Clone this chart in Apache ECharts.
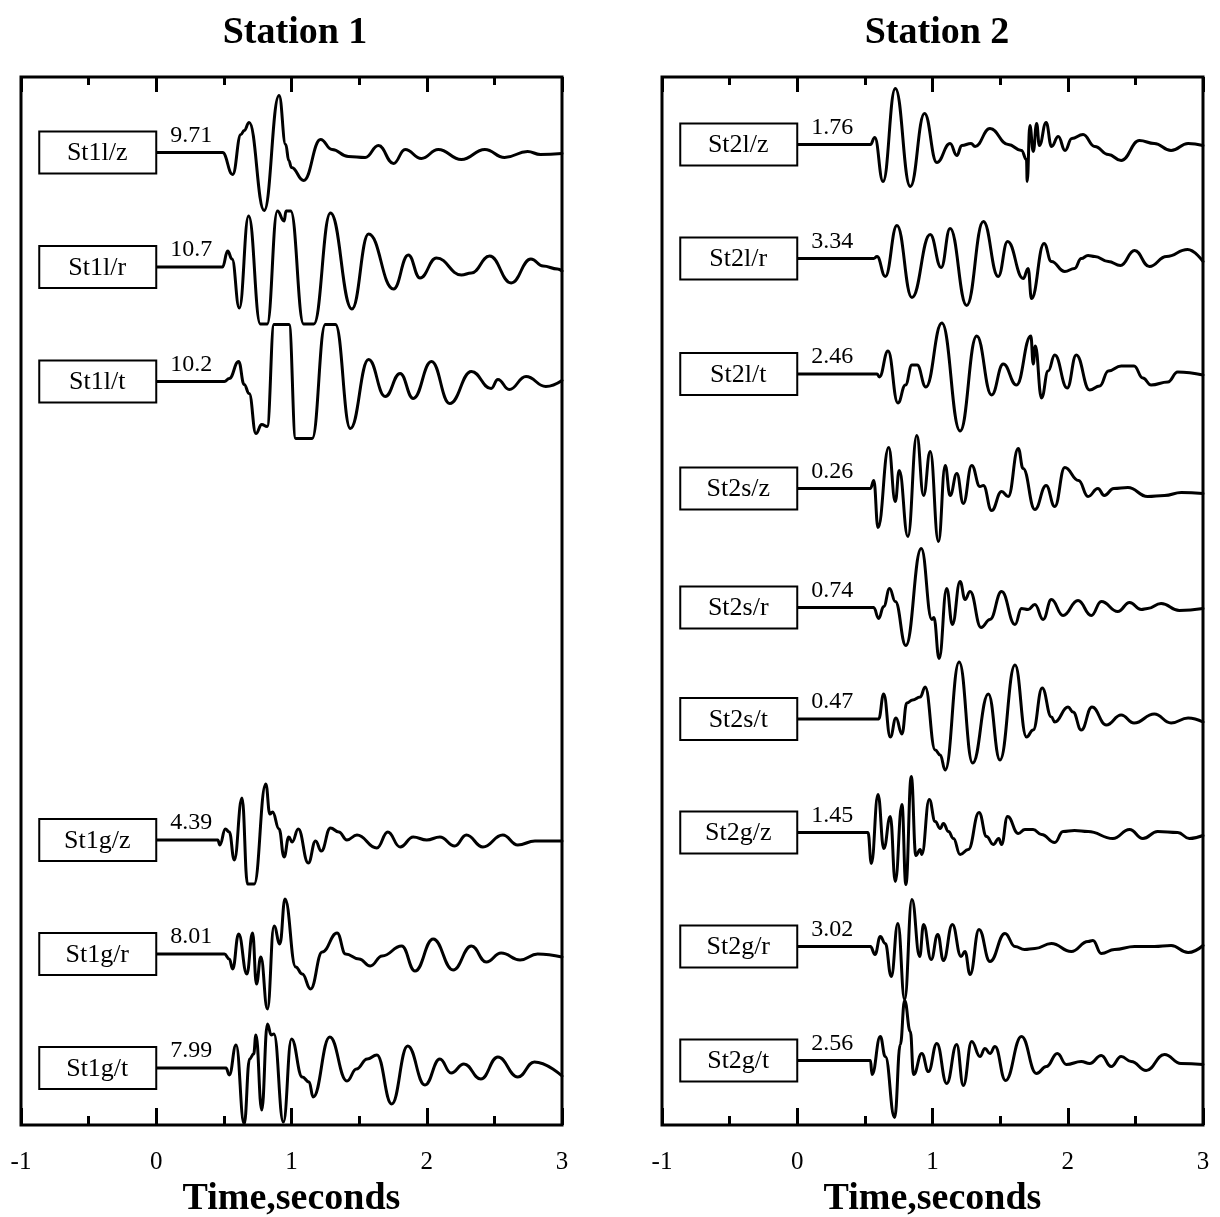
<!DOCTYPE html>
<html><head><meta charset="utf-8">
<script src="https://cdn.jsdelivr.net/npm/echarts@6/dist/echarts.min.js"></script>
<style>html,body{margin:0;padding:0;background:#fff}#c{width:1220px;height:1217px}</style>
</head><body><div id="c"></div><script>
// ---------------- DATA (time in seconds, amplitude) ----------------
const STATION_TITLES = ['Station 1', 'Station 2'];
const AXIS_NAME = 'Time,seconds';
const TIME_MIN = -1, TIME_MAX = 3, TIME_STEP = 1;

const STATION1_LABELS = ['St1l/z', 'St1l/r', 'St1l/t', 'St1g/z', 'St1g/r', 'St1g/t'];
const STATION1_AMPS = ['9.71', '10.7', '10.2', '4.39', '8.01', '7.99'];
const STATION2_LABELS = ['St2l/z', 'St2l/r', 'St2l/t', 'St2s/z', 'St2s/r', 'St2s/t', 'St2g/z', 'St2g/r', 'St2g/t'];
const STATION2_AMPS = ['1.76', '3.34', '2.46', '0.26', '0.74', '0.47', '1.45', '3.02', '2.56'];

const St1l_z = [[0,0],[0.49,0],[0.565,-22],[0.626,18],[0.65,22],[0.687,30],[0.798,-58],[0.908,57],[0.957,8],[0.98,-8],[1.0,-15],[1.09,-28],[1.215,13],[1.30,3],[1.42,-4],[1.545,-5],[1.643,7],[1.754,-11],[1.84,3],[1.96,-6],[2.085,3],[2.256,-7],[2.43,3],[2.575,-5],[2.746,1],[2.84,-2],[3.0,-1]];
const St1l_r = [[0,0],[0.49,0],[0.528,16],[0.56,8],[0.614,-41],[0.683,51],[0.77,-57],[0.82,-57],[0.896,56],[0.945,46],[0.96,56],[0.994,56],[1.09,-57],[1.165,-57],[1.288,54],[1.447,-42],[1.57,33],[1.754,-22],[1.864,12],[1.95,-11],[2.072,9],[2.256,-8],[2.33,-6],[2.465,11],[2.624,-16],[2.77,8],[2.86,1],[2.967,-2],[3.0,-4]];
const St1l_t = [[0,0],[0.504,0],[0.54,3],[0.609,20],[0.65,-3],[0.687,-12],[0.737,-52],[0.78,-43],[0.82,-45],[0.871,57],[0.982,57],[1.031,-57],[1.153,-57],[1.25,57],[1.325,57],[1.435,-47],[1.57,22],[1.693,-15],[1.803,8],[1.90,-17],[2.035,20],[2.17,-22],[2.33,10],[2.476,-7],[2.526,2],[2.61,-8],[2.734,5],[2.88,-5],[3.0,1]];
const St1g_z = [[0,0],[0.455,0],[0.47,-5],[0.511,11],[0.54,8],[0.577,-20],[0.634,42],[0.675,-44],[0.724,-44],[0.81,56],[0.84,26],[0.86,28],[0.908,11],[0.945,-17],[0.98,3],[1.005,-2],[1.05,11],[1.124,-23],[1.178,-1],[1.22,-11],[1.288,12],[1.35,8],[1.41,0],[1.484,5],[1.631,-8],[1.712,8],[1.803,-7],[1.90,3],[2.0,0],[2.097,3],[2.207,-6],[2.293,5],[2.415,-7],[2.562,5],[2.673,-5],[2.80,-1],[3.0,-1]];
const St1g_r = [[0,0],[0.504,0],[0.54,-5],[0.565,-15],[0.609,20],[0.67,-20],[0.712,21],[0.741,-30],[0.773,-3],[0.822,-55],[0.871,28],[0.914,10],[0.952,55],[1.031,-13],[1.08,-20],[1.141,-35],[1.227,2],[1.337,21],[1.40,0],[1.50,-5],[1.582,-12],[1.67,-2],[1.815,8],[1.913,-17],[2.048,15],[2.195,-16],[2.33,8],[2.44,-8],[2.55,1],[2.69,-6],[2.82,0],[3.0,-3]];
const St1g_t = [[0,0],[0.516,0],[0.54,-7],[0.59,23],[0.65,-56],[0.69,9],[0.72,14],[0.737,33],[0.78,-42],[0.822,44],[0.85,33],[0.87,34],[0.94,-54],[1.0,29],[1.08,-9],[1.13,-14],[1.16,-29],[1.283,31],[1.41,-13],[1.48,-1],[1.56,9],[1.631,13],[1.741,-36],[1.859,22],[1.987,-17],[2.097,9],[2.18,-5],[2.275,4],[2.40,-11],[2.526,11],[2.673,-9],[2.796,6],[3.0,-8]];

const St2l_z = [[0,0],[0.541,0],[0.573,7],[0.634,-37],[0.725,56],[0.836,-42],[0.941,31],[1.032,-18],[1.13,1],[1.18,-11],[1.216,-1],[1.285,1],[1.315,-2],[1.425,16],[1.56,0],[1.658,-6],[1.695,-15],[1.70,-37],[1.72,19],[1.745,-7],[1.77,21],[1.79,-1],[1.84,22],[1.88,-2],[1.93,8],[1.98,-6],[2.03,6],[2.113,10],[2.20,-2],[2.30,-10],[2.395,-16],[2.53,4],[2.64,1],[2.764,-6],[2.89,1],[3.0,-1]];
const St2l_r = [[0,0],[0.565,0],[0.59,2],[0.651,-18],[0.737,33],[0.848,-39],[0.983,24],[1.064,-9],[1.13,30],[1.253,-47],[1.376,37],[1.486,-18],[1.555,17],[1.671,-20],[1.707,-10],[1.732,-40],[1.825,15],[1.879,-3],[1.978,-13],[2.05,-10],[2.10,0],[2.15,3],[2.20,2],[2.30,-3],[2.39,-7],[2.494,8],[2.604,-8],[2.73,2],[2.886,9],[3.0,-3]];
const St2l_t = [[0,0],[0.59,0],[0.607,-3],[0.671,23],[0.744,-29],[0.80,-11],[0.848,9],[0.886,9],[0.951,-13],[1.069,51],[1.204,-57],[1.327,38],[1.437,-21],[1.523,10],[1.621,-11],[1.727,38],[1.745,10],[1.76,28],[1.806,-24],[1.855,3],[1.904,19],[1.996,-14],[2.063,19],[2.162,-16],[2.236,-12],[2.30,3],[2.395,8],[2.49,8],[2.555,-4],[2.616,-11],[2.74,-8],[2.813,2],[3.0,-1]];
const St2s_z = [[0,0],[0.541,0],[0.566,8],[0.597,-39],[0.676,41],[0.725,-13],[0.754,18],[0.818,-48],[0.884,53],[0.934,-7],[0.983,37],[1.044,-53],[1.094,23],[1.13,-7],[1.18,15],[1.228,-15],[1.29,23],[1.351,2],[1.376,3],[1.437,-22],[1.511,-3],[1.56,-8],[1.634,40],[1.67,20],[1.757,-21],[1.84,3],[1.904,-18],[1.978,21],[2.08,8],[2.15,-8],[2.223,0],[2.27,-7],[2.34,0],[2.445,1],[2.59,-8],[2.715,-7],[2.84,-4],[3.0,-5]];
const St2s_r = [[0,0],[0.565,0],[0.602,-11],[0.639,1],[0.683,19],[0.725,6],[0.803,-38],[0.917,59],[0.995,-12],[1.01,-10],[1.049,-51],[1.105,19],[1.147,-17],[1.204,26],[1.241,8],[1.278,16],[1.359,-20],[1.425,-12],[1.511,16],[1.61,-17],[1.658,-1],[1.707,-2],[1.757,3],[1.818,-12],[1.879,8],[1.965,-8],[2.076,7],[2.174,-8],[2.248,6],[2.37,-4],[2.457,5],[2.543,-2],[2.59,-1],[2.69,4],[2.825,-3],[3.0,-1]];
const St2s_t = [[0,0],[0.602,0],[0.639,25],[0.688,-18],[0.73,1],[0.774,-15],[0.81,16],[0.853,19],[0.909,22],[0.946,32],[1.02,-31],[1.057,-36],[1.094,-51],[1.197,57],[1.297,-44],[1.413,25],[1.499,-41],[1.61,54],[1.695,-18],[1.744,-11],[1.811,31],[1.879,2],[1.904,-3],[2.002,12],[2.039,7],[2.10,-11],[2.179,12],[2.285,-6],[2.395,4],[2.49,-4],[2.64,5],[2.764,-4],[2.89,1],[3.0,-3]];
const St2g_z = [[0,0],[0.523,0],[0.548,-31],[0.597,38],[0.64,-16],[0.688,16],[0.725,-49],[0.774,28],[0.803,-52],[0.843,56],[0.877,-23],[0.909,-17],[0.921,-22],[0.976,33],[1.02,11],[1.057,4],[1.081,9],[1.118,1],[1.155,-6],[1.204,-22],[1.265,-17],[1.344,20],[1.40,-4],[1.449,-12],[1.49,-6],[1.51,-12],[1.555,16],[1.634,-1],[1.683,3],[1.744,3],[1.806,-2],[1.904,-10],[1.965,1],[2.05,2],[2.15,1],[2.334,-6],[2.457,3],[2.555,-6],[2.665,1],[2.813,0],[2.899,-6],[3.0,-3]];
const St2g_r = [[0,0],[0.541,0],[0.575,-8],[0.614,10],[0.651,3],[0.695,-30],[0.744,23],[0.794,-53],[0.848,47],[0.905,-10],[0.934,22],[0.99,-13],[1.039,12],[1.081,-14],[1.147,22],[1.211,-10],[1.24,-5],[1.278,-28],[1.344,17],[1.425,-15],[1.536,13],[1.61,0],[1.68,-3],[1.757,-2],[1.879,3],[2.026,-5],[2.15,5],[2.186,6],[2.248,-7],[2.346,-3],[2.494,0],[2.641,0],[2.764,1],[2.89,-6],[3.0,1]];
const St2g_t = [[0,0],[0.541,0],[0.553,-14],[0.614,24],[0.651,4],[0.72,-57],[0.762,16],[0.794,60],[0.836,29],[0.86,-14],[0.921,7],[0.97,-11],[1.032,17],[1.105,-23],[1.179,16],[1.228,-25],[1.29,19],[1.351,4],[1.388,12],[1.425,7],[1.462,14],[1.54,-20],[1.658,24],[1.769,-13],[1.842,-6],[1.923,7],[1.99,-4],[2.10,-1],[2.162,-3],[2.248,5],[2.321,-6],[2.395,4],[2.469,-1],[2.58,-10],[2.715,6],[2.837,-3],[3.0,-4]];

const STATION1_TRACES = [St1l_z, St1l_r, St1l_t, St1g_z, St1g_r, St1g_t];
const STATION2_TRACES = [St2l_z, St2l_r, St2l_t, St2s_z, St2s_r, St2s_t, St2g_z, St2g_r, St2g_t];

// ---------------- LAYOUT ----------------
const FONT = '"Liberation Serif","Times New Roman",Times,serif';
const PANEL_TOP = 77, PANEL_H = 1048, PANEL_W = 541, HALF = 60;
const panels = [
  { left: 21, titleX: 295, title: STATION_TITLES[0], labels: STATION1_LABELS, amps: STATION1_AMPS, traces: STATION1_TRACES,
    baselines: [152.5, 267, 381.5, 840, 954, 1068] },
  { left: 662, titleX: 937, title: STATION_TITLES[1], labels: STATION2_LABELS, amps: STATION2_AMPS, traces: STATION2_TRACES,
    baselines: [144.5, 258.5, 374, 488.5, 607.5, 719, 832.5, 946.5, 1060.5] }
];

const grids = [], xAxes = [], yAxes = [], series = [], refs = [];
const tickStyle = { color: '#000', width: 3 };
panels.forEach(p => {
  const gi = grids.length;
  grids.push({ left: p.left, top: PANEL_TOP, width: PANEL_W, height: PANEL_H, show: true, containLabel: false,
    outerBoundsMode: 'none', borderColor: '#000', borderWidth: 3, backgroundColor: 'rgba(0,0,0,0)' });
  xAxes.push({ gridIndex: gi, type: 'value', min: TIME_MIN, max: TIME_MAX, interval: TIME_STEP, position: 'bottom',
    axisLine: { show: false }, splitLine: { show: false },
    axisTick: { inside: true, length: 17, lineStyle: tickStyle },
    minorTick: { show: true, splitNumber: 2, length: 9, lineStyle: tickStyle },
    axisLabel: { margin: 25, color: '#000', fontFamily: FONT, fontSize: 25, showMinLabel: true, showMaxLabel: true },
    name: AXIS_NAME, nameLocation: 'middle', nameGap: 54,
    nameTextStyle: { fontFamily: FONT, fontWeight: 'bold', fontSize: 38, color: '#000' } });
  xAxes.push({ gridIndex: gi, type: 'value', min: TIME_MIN, max: TIME_MAX, interval: TIME_STEP, position: 'top',
    axisLine: { show: false }, splitLine: { show: false },
    axisTick: { inside: true, length: 15, lineStyle: tickStyle },
    minorTick: { show: true, splitNumber: 2, length: 8, lineStyle: tickStyle },
    axisLabel: { show: false } });
  yAxes.push({ gridIndex: gi, type: 'value', min: 0, max: 1, show: false });
  p.traces.forEach((tr, k) => {
    const g = grids.length;
    grids.push({ left: p.left, top: p.baselines[k] - HALF, width: PANEL_W, height: 2 * HALF, show: false,
      containLabel: false, outerBoundsMode: 'none' });
    xAxes.push({ gridIndex: g, type: 'value', min: TIME_MIN, max: TIME_MAX, show: false });
    yAxes.push({ gridIndex: g, type: 'value', min: -HALF, max: HALF, show: false });
    const xi = xAxes.length - 1, yi = yAxes.length - 1;
    series.push({ type: 'line', name: p.labels[k], xAxisIndex: xi, yAxisIndex: yi, data: tr,
      symbol: 'none', showSymbol: false, smooth: 0.45, smoothMonotone: 'x', clip: false, silent: true,
      lineStyle: { color: '#000', width: 3, join: 'round', cap: 'round' }, z: 3 });
    refs.push({ xi, yi, name: p.labels[k], amp: p.amps[k] });
  });
});

const chart = echarts.init(document.getElementById('c'), null, { renderer: 'canvas' });
chart.setOption({ animation: false, backgroundColor: '#fff', grid: grids, xAxis: xAxes, yAxis: yAxes, series });

const graphics = [];
panels.forEach(p => {
  graphics.push({ type: 'text', x: p.titleX, y: 33, z: 20,
    style: { text: p.title, fontFamily: FONT, fontWeight: 'bold', fontSize: 38, fill: '#000', align: 'center', verticalAlign: 'middle' } });
});
refs.forEach(r => {
  const [px, py] = chart.convertToPixel({ xAxisIndex: r.xi, yAxisIndex: r.yi }, [0, 0]);
  graphics.push({ type: 'rect', z: 20, shape: { x: px - 117, y: py - 21, width: 117, height: 42 },
    style: { fill: '#fff', stroke: '#000', lineWidth: 2 } });
  graphics.push({ type: 'text', z: 21, x: px - 59, y: py + 1,
    style: { text: r.name, fontFamily: FONT, fontSize: 26, fill: '#000', align: 'center', verticalAlign: 'middle' } });
  graphics.push({ type: 'text', z: 21, x: px + 14, y: py - 5,
    style: { text: r.amp, fontFamily: FONT, fontSize: 24, fill: '#000', align: 'left', verticalAlign: 'bottom' } });
});
chart.setOption({ graphic: graphics });
</script></body></html>
